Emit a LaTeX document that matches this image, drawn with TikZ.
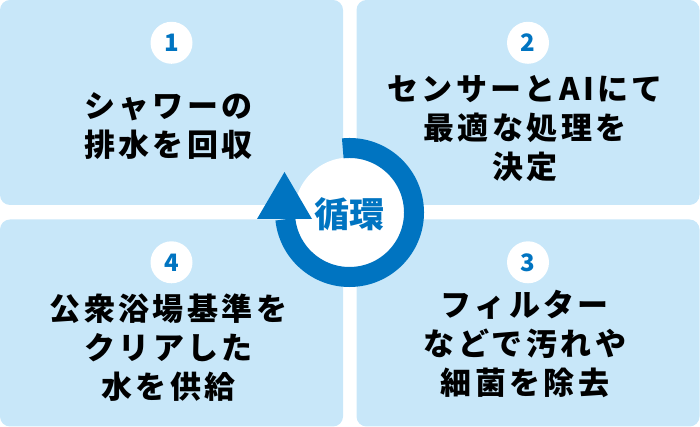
\documentclass[tikz,border=0pt]{standalone}
\usepackage{fontspec}
\newfontfamily\jpfont{Noto Sans CJK JP}
\newfontfamily\jpwide{Noto Sans CJK JP}[LetterSpace=11]
\usetikzlibrary{positioning}
\definecolor{panelblue}{RGB}{200,231,249}
\definecolor{ringblue}{RGB}{0,116,193}
\begin{document}
\begin{tikzpicture}[x=1pt, y=1pt,
    panel/.style={fill=panelblue, rounded corners=10pt, minimum width=343pt, inner sep=0pt},
    num/.style={circle, fill=white, minimum size=42pt, inner sep=0pt, text=ringblue,
        font=\jpfont\bfseries\fontsize{24}{24}\selectfont},
    desc/.style={align=center, inner sep=0pt, xshift=-3pt, font=\jpwide\bfseries\fontsize{31}{39}\selectfont}]
\useasboundingbox (0,0) rectangle (700,427);
\node[panel, minimum height=205pt] (box1) at (171.5,324.5) {};
\node[panel, minimum height=205pt] (box2) at (528,324.5) {};
\node[panel, minimum height=207pt] (box3) at (528,104) {};
\node[panel, minimum height=207pt] (box4) at (171.5,104) {};
\node[num] (n1) at ([yshift=-43pt]box1.north) {1};
\node[num] (n2) at ([yshift=-43pt]box2.north) {2};
\node[num] (n3) at ([yshift=-43pt]box3.north) {3};
\node[num] (n4) at ([yshift=-43pt]box4.north) {4};
\node[desc] (t1) at ([yshift=-24pt]box1.center) {シャワーの\\排水を回収};
\node[desc] (t2) at ([yshift=-26pt]box2.center) {センサーとAIにて\\最適な処理を\\決定};
\node[desc] (t3) at ([yshift=-21pt]box3.center) {フィルター\\などで汚れや\\細菌を除去};
\node[desc] (t4) at ([yshift=-25pt]box4.center) {公衆浴場基準を\\クリアした\\水を供給};
\coordinate (hub) at (349.5,214.5);
\fill[white] (hub) circle[radius=55pt];
\draw[ringblue, line width=20pt] ([shift={(96:64.5pt)}]hub) arc[start angle=96, end angle=-174, radius=64.5pt];
\fill[ringblue] (257,208) -- (312,208) -- (284.5,255) -- cycle;
\node[text=ringblue, font=\jpfont\bfseries\fontsize{35}{35}\selectfont] (hubtext) at ([yshift=-1.5pt]hub) {循環};
\end{tikzpicture}
\end{document}
